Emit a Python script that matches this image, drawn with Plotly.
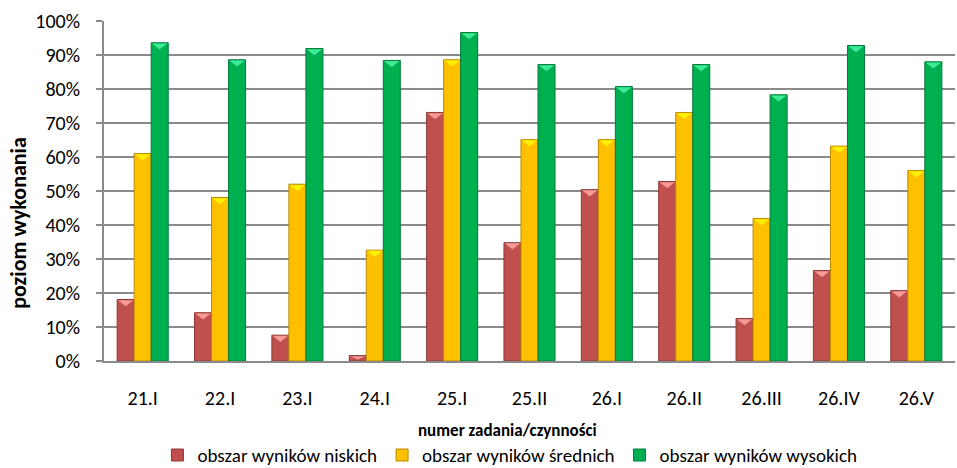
import plotly.graph_objects as go

categories = ["21.I", "22.I", "23.I", "24.I", "25.I", "25.II", "26.I", "26.II", "26.III", "26.IV", "26.V"]
niskie = [0.181, 0.142, 0.076, 0.016, 0.731, 0.348, 0.504, 0.528, 0.125, 0.266, 0.207]
srednie = [0.610, 0.481, 0.520, 0.326, 0.886, 0.651, 0.651, 0.731, 0.419, 0.632, 0.560]
wysokie = [0.936, 0.886, 0.919, 0.884, 0.966, 0.872, 0.807, 0.872, 0.783, 0.928, 0.880]

series = [
    ("obszar wyników niskich", niskie, "#C0504D", "#8C3836", "#F59A97"),
    ("obszar wyników średnich", srednie, "#FFC000", "#B88A00", "#FFF000"),
    ("obszar wyników wysokich", wysokie, "#00B050", "#007A38", "#3DEB96"),
]

FONT = "Carlito, Calibri, Lato, sans-serif"
GRID = "#8A8A8A"
BARGAP = 0.34
bar_w = (1 - BARGAP) / len(series)

fig = go.Figure()
x_idx = list(range(len(categories)))

for k, (name, vals, fill, edge, hi) in enumerate(series):
    fig.add_trace(go.Bar(
        x=x_idx, y=vals, name=name,
        marker=dict(color=fill, line=dict(color=edge, width=1)),
    ))

# bevel highlight on top of each bar, placed from the bar's own value
for k, (name, vals, fill, edge, hi) in enumerate(series):
    off = (k - (len(series) - 1) / 2) * bar_w
    xs, ys = [], []
    for i, v in enumerate(vals):
        cx = i + off
        half = bar_w / 2 * 0.9
        top = v - 0.002
        depth = min(0.018, v * 0.6)
        xs += [cx - half, cx + half, cx, None]
        ys += [top, top, top - depth, None]
    fig.add_trace(go.Scatter(
        x=xs, y=ys, mode="lines", fill="toself", fillcolor=hi,
        line=dict(width=0, color=hi), hoverinfo="skip", showlegend=False,
    ))

fig.update_layout(
    width=957, height=468,
    margin=dict(l=104, r=2, t=21, b=107, autoexpand=False),
    paper_bgcolor="white", plot_bgcolor="white",
    barmode="group", bargap=BARGAP, bargroupgap=0,
    font=dict(family=FONT, size=20, color="#000000"),
    showlegend=True,
    legend=dict(
        orientation="h", x=0.477, xanchor="center", y=-0.277, yanchor="middle",
        font=dict(family=FONT, size=19), itemwidth=30, tracegroupgap=0,
        traceorder="normal",
    ),
)

fig.update_xaxes(
    range=[-0.5, len(categories) - 0.5],
    tickmode="array", tickvals=x_idx, ticktext=categories,
    showgrid=False, showline=True, linecolor=GRID, linewidth=2,
    ticks="", ticklabelstandoff=18, automargin=False,
    tickfont=dict(family=FONT, size=20),
    zeroline=False,
)
fig.update_yaxes(
    range=[0, 1], dtick=0.1, tickformat=".0%",
    showgrid=True, gridcolor=GRID, gridwidth=1.5,
    showline=True, linecolor=GRID, linewidth=2,
    ticks="outside", ticklen=6, tickcolor=GRID, tickwidth=1.5,
    ticklabelstandoff=12, automargin=False,
    tickfont=dict(family=FONT, size=20),
    zeroline=False,
)

fig.add_annotation(
    text="<b>numer zadania/czynności</b>", xref="paper", yref="paper",
    x=0.474, y=-0.205, xanchor="center", yanchor="middle", showarrow=False,
    font=dict(family=FONT, size=17),
)
fig.add_annotation(
    text="<b>poziom wykonania</b>", xref="paper", yref="paper",
    x=-0.1, y=0.406, xanchor="center", yanchor="middle", showarrow=False,
    textangle=-90, font=dict(family=FONT, size=22),
)

fig.write_html("out.html")
